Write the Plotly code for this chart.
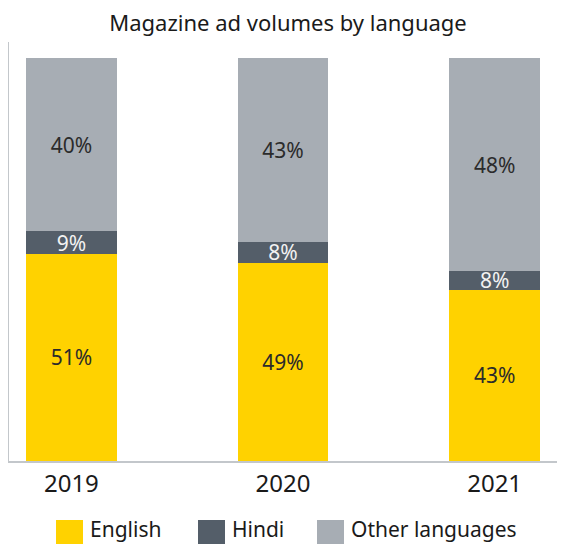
import plotly.graph_objects as go

# ---- data ----
years = ["2019", "2020", "2021"]
series_names = ["English", "Hindi", "Other languages"]
# drawn segment heights (share of bar)
english = [51.5, 49.2, 42.5]
hindi = [5.5, 5.2, 4.7]
other = [43.0, 45.6, 52.8]
# printed labels
english_labels = ["51%", "49%", "43%"]
hindi_labels = ["9%", "8%", "8%"]
other_labels = ["40%", "43%", "48%"]

colors = ["#FFD200", "#545E69", "#A7ADB4"]
text_colors = ["#2b2b2b", "#f2f2f2", "#2b2b2b"]
FONT = "Noto Sans"

OFF = 8  # page body margin of the browser
PAGE_W, PAGE_H = 565, 544
W, H = PAGE_W - OFF, PAGE_H - OFF
# plot area in page pixels: x 8..565, y 42..461
L, R, T, B = 8 - OFF + 1, 0, 42 - OFF, PAGE_H - 461

fig = go.Figure()
for name, vals, labs, col, tcol in zip(series_names, [english, hindi, other],
                                       [english_labels, hindi_labels, other_labels],
                                       colors, text_colors):
    fig.add_trace(go.Bar(
        x=years, y=vals, name=name, marker=dict(color=col, line=dict(width=0)),
        width=0.429, text=labs, textposition="inside", insidetextanchor="middle",
        textangle=0, textfont=dict(family=FONT, size=21, color=tcol),
        showlegend=False, hoverinfo="skip",
    ))

# custom legend (paper coordinates from page pixel positions)
def px_x(p):
    return (p - OFF - L) / (W - L - R)

def px_y(p):
    return (H - B - (p - OFF)) / (H - B - T)

legend_x = [56, 198, 317]
for name, col, lx in zip(series_names, colors, legend_x):
    fig.add_shape(type="rect", xref="paper", yref="paper",
                  x0=px_x(lx), x1=px_x(lx + 27), y0=px_y(520), y1=px_y(546),
                  fillcolor=col, line=dict(width=0))
    fig.add_annotation(xref="paper", yref="paper", x=px_x(lx + 32), y=px_y(529),
                       text=name, showarrow=False, xanchor="left", yanchor="middle",
                       font=dict(family=FONT, size=21, color="#1a1a1a"))

# x range so that bar centres sit at page x 70.5, 282.5, 494.5
unit = 212.0
x0 = (8 - 70.5) / unit
x1 = (565 - 70.5) / unit

fig.update_layout(
    width=W, height=H,
    margin=dict(l=L, r=R, t=T, b=B),
    barmode="stack",
    paper_bgcolor="white", plot_bgcolor="white",
    title=dict(text="Magazine ad volumes by language", x=(288 - OFF) / W, xanchor="center",
               y=1 - (23 - OFF) / H, yanchor="middle",
               font=dict(family=FONT, size=22, color="#1a1a1a")),
    uniformtext=dict(minsize=21, mode="show"),
    font=dict(family=FONT),
    xaxis=dict(type="category", range=[x0, x1], showgrid=False,
               showline=True, linecolor="#c3c7cb", linewidth=2, ticks="",
               tickfont=dict(family=FONT, size=24, color="#1a1a1a"), fixedrange=True),
    yaxis=dict(range=[0, 104.05], showgrid=False, showline=True, linecolor="#c3c7cb",
               linewidth=2, showticklabels=False, ticks="", zeroline=False),
)

fig.write_html("out.html")
